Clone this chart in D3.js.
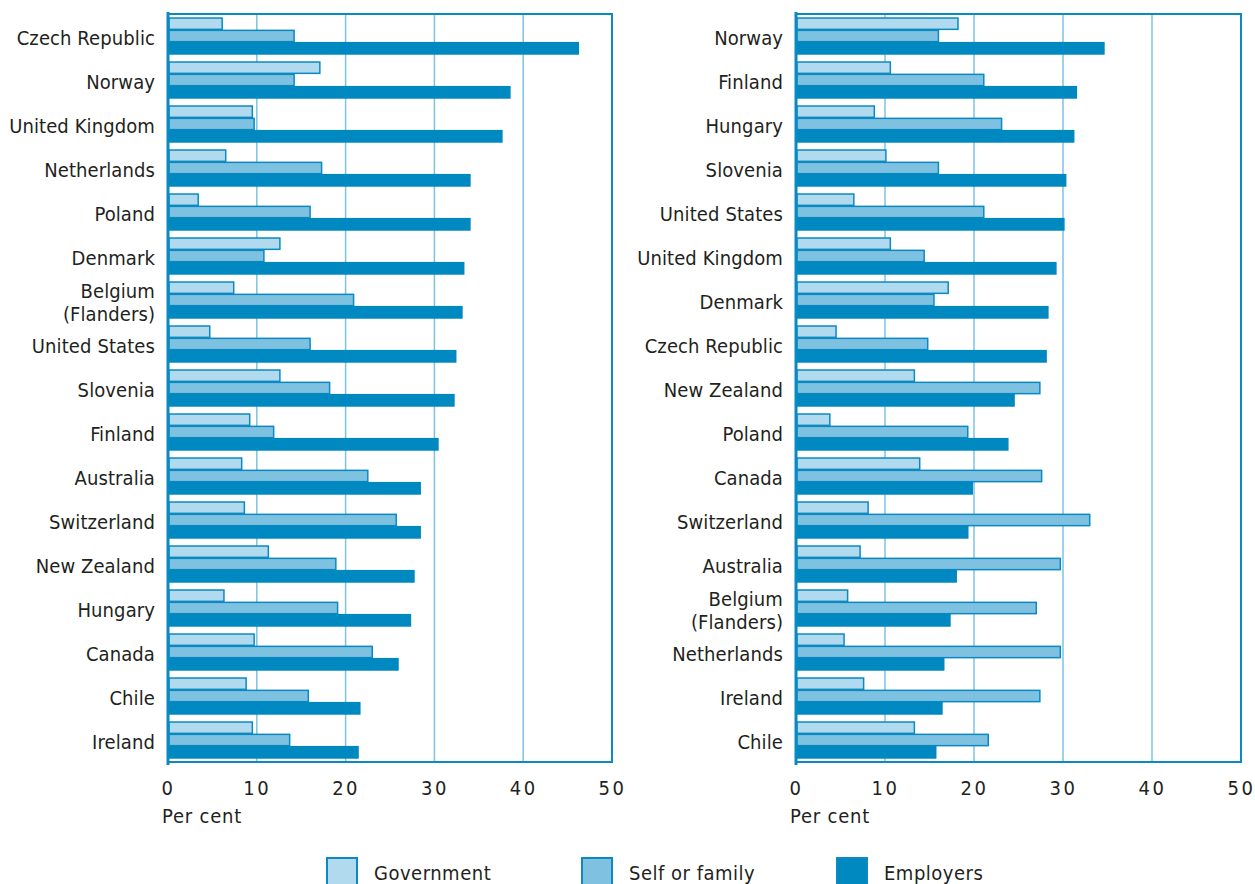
<!DOCTYPE html>
<html><head><meta charset="utf-8">
<script src="https://cdn.jsdelivr.net/npm/d3@7"></script>
<style>
html,body{margin:0;padding:0;background:#fff;}
text{font-family:"Liberation Sans Narrow","DejaVu Sans Condensed","Roboto Condensed",sans-serif;fill:#231f20;}
</style></head>
<body>
<svg id="chart" width="1255" height="884"></svg>
<script>
const seriesNames = ["Government", "Self or family", "Employers"];
const xTicks = [0, 10, 20, 30, 40, 50];
const axisLabel = "Per cent";

const leftCountries = ["Czech Republic","Norway","United Kingdom","Netherlands","Poland","Denmark","Belgium\n(Flanders)","United States","Slovenia","Finland","Australia","Switzerland","New Zealand","Hungary","Canada","Chile","Ireland"];
const leftGov  = [6.1,17.1,9.5,6.5,3.4,12.6,7.4,4.7,12.6,9.2,8.3,8.6,11.3,6.3,9.7,8.8,9.5];
const leftSelf = [14.2,14.2,9.7,17.3,16.0,10.8,20.9,16.0,18.2,11.9,22.5,25.7,18.9,19.1,23.0,15.8,13.7];
const leftEmp  = [46.2,38.5,37.6,34.0,34.0,33.3,33.1,32.4,32.2,30.4,28.4,28.4,27.7,27.3,25.9,21.6,21.4];

const rightCountries = ["Norway","Finland","Hungary","Slovenia","United States","United Kingdom","Denmark","Czech Republic","New Zealand","Poland","Canada","Switzerland","Australia","Belgium\n(Flanders)","Netherlands","Ireland","Chile"];
const rightGov  = [18.2,10.6,8.8,10.1,6.5,10.6,17.1,4.5,13.3,3.8,13.9,8.1,7.2,5.8,5.4,7.6,13.3];
const rightSelf = [16.0,21.1,23.1,16.0,21.1,14.4,15.5,14.8,27.4,19.3,27.6,33.0,29.7,27.0,29.7,27.4,21.6];
const rightEmp  = [34.6,31.5,31.2,30.3,30.1,29.2,28.3,28.1,24.5,23.8,19.8,19.3,18.0,17.3,16.6,16.4,15.7];

const fills = ["#b1daee", "#7fc1e1", "#0089c0"];
const edge = "#0a8ac1";
const gridColor = "#7cc3e3";

const svg = d3.select("#chart");

function panel(x0, x1, countries, gov, self, emp) {
  const top = 14, bottom = 762;
  const x = d3.scaleLinear().domain([0, 50]).range([x0, x1]);
  const y = d3.scaleBand().domain(countries).range([top, bottom]).paddingInner(0.16).paddingOuter(0.08);
  const sub = d3.scaleBand().domain([0,1,2]).range([0, y.bandwidth()]);
  const g = svg.append("g");

  g.selectAll("line.grid").data(xTicks.slice(1, -1)).join("line")
    .attr("x1", d => x(d)).attr("x2", d => x(d))
    .attr("y1", top).attr("y2", bottom)
    .attr("stroke", gridColor).attr("stroke-width", 1.5);

  const rows = countries.map((c, i) => ({c, vals: [gov[i], self[i], emp[i]]}));
  rows.forEach(r => {
    r.vals.forEach((v, k) => {
      g.append("rect")
        .attr("x", x(0) + 1)
        .attr("y", y(r.c) + sub(k) + 0.5)
        .attr("width", x(v) - x(0) - 1)
        .attr("height", sub.bandwidth() - 1)
        .attr("fill", fills[k])
        .attr("stroke", k < 2 ? edge : fills[k])
        .attr("stroke-width", 1.5);
    });
    const lines = r.c.split("\n");
    const t = g.append("text")
      .attr("x", x0 - 13)
      .attr("text-anchor", "end")
      .attr("font-size", 20)
      .attr("letter-spacing", 0.1);
    const cy = y(r.c) + y.bandwidth() / 2 + 2;
    lines.forEach((l, j) => {
      t.append("tspan").attr("x", x0 - 13)
        .attr("y", cy + (j - (lines.length - 1) / 2) * 23)
        .attr("dy", "0.35em").text(l);
    });
  });

  g.append("path")
    .attr("d", `M${x0},${bottom}H${x1}V${top}H${x0}`)
    .attr("fill", "none").attr("stroke", edge).attr("stroke-width", 2);
  g.append("line").attr("x1", x0).attr("x2", x0).attr("y1", top - 2).attr("y2", bottom + 3)
    .attr("stroke", edge).attr("stroke-width", 3);

  const ax = g.append("g").attr("transform", `translate(0,${bottom})`)
    .call(d3.axisBottom(x).tickValues(xTicks).tickSize(0).tickPadding(19));
  ax.select(".domain").remove();
  ax.selectAll("text").attr("font-size", 20).attr("letter-spacing", 2.5)
    .style("font-family", '"Liberation Sans Narrow","DejaVu Sans Condensed",sans-serif').attr("fill", "#231f20");

  g.append("text").attr("x", x0 - 6).attr("y", 823)
    .attr("font-size", 20).attr("letter-spacing", 0.8).text(axisLabel);
}

panel(168, 612, leftCountries, leftGov, leftSelf, leftEmp);
panel(796, 1241, rightCountries, rightGov, rightSelf, rightEmp);

const legX = [326, 581, 836];
const lg = svg.append("g");
seriesNames.forEach((s, i) => {
  lg.append("rect").attr("x", legX[i] + 1).attr("y", 858).attr("width", 30).attr("height", 30)
    .attr("fill", fills[i]).attr("stroke", edge).attr("stroke-width", 2);
  lg.append("text").attr("x", legX[i] + 48).attr("y", 880)
    .attr("font-size", 20).attr("letter-spacing", 0.5).text(s);
});
</script>
</body></html>
